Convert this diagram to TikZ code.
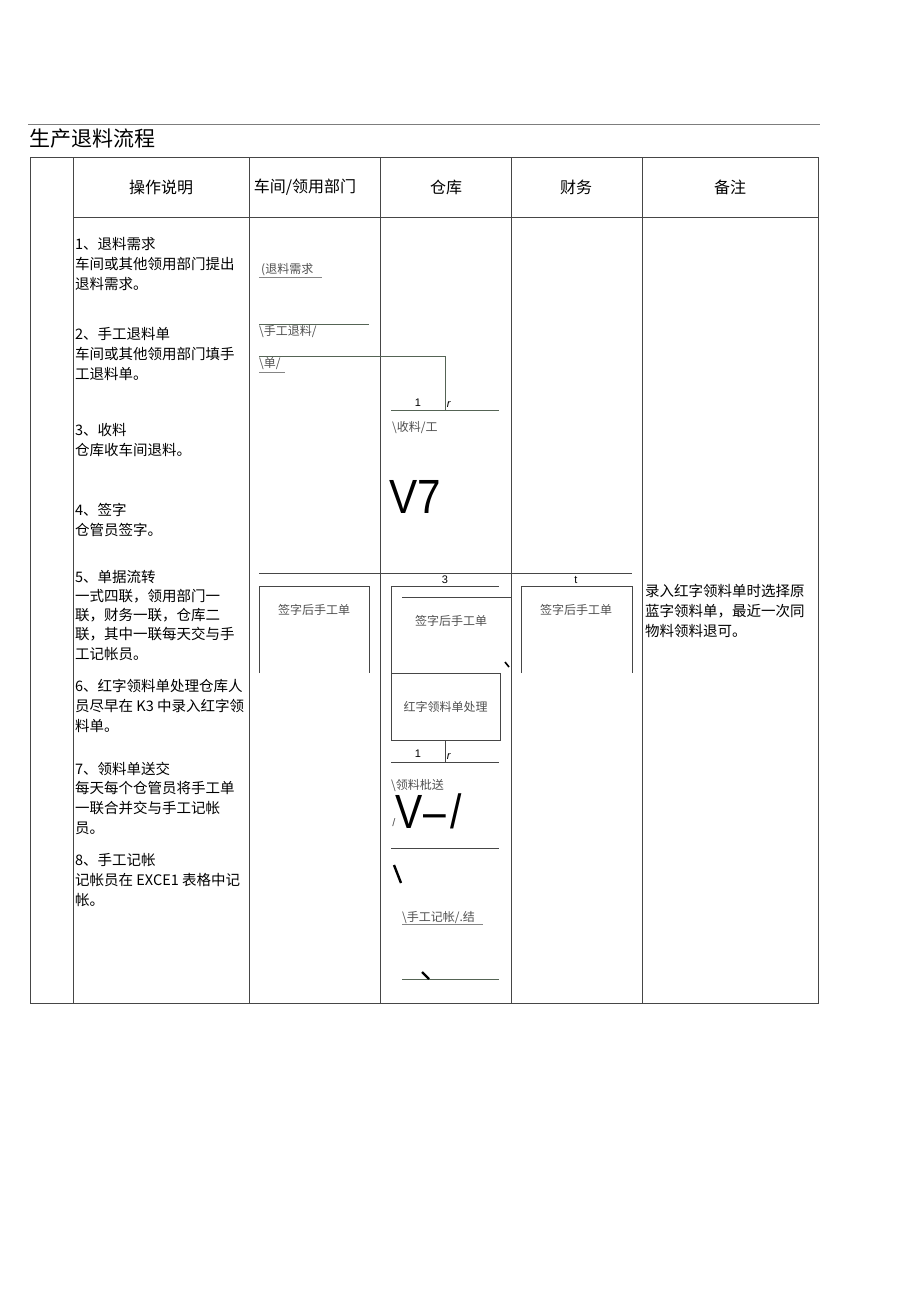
\documentclass[tikz,border=0pt]{standalone}
\usepackage{fontspec}
\setmainfont{Liberation Sans}
\newfontfamily\cjk{Noto Sans CJK SC}
\usetikzlibrary{positioning}
\definecolor{rulegray}{RGB}{70,70,70}
\definecolor{flowline}{RGB}{85,100,85}
\definecolor{labelgray}{RGB}{80,80,80}
\tikzset{
  cell/.style={font=\cjk\fontsize{14.5}{19.6}\selectfont, anchor=base west, inner sep=0pt, align=left},
  head/.style={font=\cjk\fontsize{16}{18}\selectfont, inner sep=0pt},
  lbl/.style={font=\cjk\fontsize{12}{14}\selectfont, text=labelgray, inner sep=0pt},
  big/.style={font=\fontsize{48}{50}\selectfont, inner sep=0pt, anchor=west},
  tick/.style={font=\fontsize{11}{12}\selectfont, inner sep=0pt},
  grid/.style={draw=rulegray, line width=.8pt},
  flow/.style={draw=flowline, line width=.8pt},
}
\begin{document}
\begin{tikzpicture}[x=1pt,y=-1pt]
\useasboundingbox (0,0) rectangle (920,1301);
% title and table
\draw[rulegray!70, line width=.6pt] (28,124) -- (820,124);
\node (title) [anchor=base west, inner sep=0pt, font=\cjk\fontsize{21}{24}\selectfont] at (29,146) {生产退料流程};
\draw[grid] (30,157) rectangle (818,1003);
\foreach \x in {73,249,380,511,642} \draw[grid] (\x,157) -- (\x,1003);
\draw[grid] (73,217) -- (818,217);
\node (h1) [head] at (161,187) {操作说明};
\node (h2) [head] at (305,187) {车间/领用部门};
\node (h3) [head] at (446,187) {仓库};
\node (h4) [head] at (576,187) {财务};
\node (h5) [head] at (730,187) {备注};
% steps (anchored on the last line)
\node (s1) [cell] at (75,289) {1、退料需求\\车间或其他领用部门提出\\退料需求。};
\node (s2) [cell] at (75,379) {2、手工退料单\\车间或其他领用部门填手\\工退料单。};
\node (s3) [cell] at (75,455) {3、收料\\仓库收车间退料。};
\node (s4) [cell] at (75,535) {4、签字\\仓管员签字。};
\node (s5) [cell, font=\cjk\fontsize{14.5}{19.25}\selectfont] at (75,659) {5、单据流转\\一式四联，领用部门一\\联，财务一联，仓库二\\联，其中一联每天交与手\\工记帐员。};
\node (s6) [cell] at (75,731) {6、红字领料单处理仓库人\\员尽早在 K3 中录入红字领\\料单。};
\node (s7) [cell] at (75,833) {7、领料单送交\\每天每个仓管员将手工单\\一联合并交与手工记帐\\员。};
\node (s8) [cell] at (75,905) {8、手工记帐\\记帐员在 EXCE1 表格中记\\帐。};
\node (note) [cell] at (645,636) {录入红字领料单时选择原\\蓝字领料单，最近一次同\\物料领料退可。};
% flow
\node (req) [lbl, anchor=west] at (261,270) {(退料需求};
\draw[labelgray!70, line width=.6pt] (259,277) -- (322,277);
\draw[flow] (259,324) -- (369,324);
\node (form) [lbl, anchor=west] at (259,332) {\textbackslash 手工退料/};
\node (form2) [lbl, anchor=west] at (259,364) {\textbackslash 单/};
\draw[labelgray!70, line width=.6pt] (259,372) -- (285,372);
\coordinate (a1) at (259,356);
\coordinate (a2) at (445,356);
\coordinate (a3) at (445,410);
\draw[flow] (a1) -- (a2) -- (a3);
\draw[flow] (391,410) -- (499,410);
\node (n1) [tick] at (418,403) {1};
\node (r1) [tick] at (449,405) {\textit{r}};
\node (recv) [lbl, anchor=west] at (392,428) {\textbackslash 收料/工};
\node (v7) [big] at (389,497) {\scalebox{.88}[1]{V7}};
\draw[rulegray, line width=.8pt] (259,573) -- (632,573);
\node (n3) [tick] at (445,580) {3};
\node (nt) [tick] at (576,580) {t};
\draw[grid] (259,673) -- (259,586) -- (369,586) -- (369,673);
\draw[grid] (391,740) -- (391,586) -- (499,586);
\draw[grid] (402,597) -- (511,597);
\draw[grid] (521,673) -- (521,586) -- (632,586) -- (632,673);
\node (sg1) [lbl] at (314,610) {签字后手工单};
\node (sg2) [lbl] at (451,621) {签字后手工单};
\node (sg3) [lbl] at (576,610) {签字后手工单};
\draw[line width=1.6pt] (505,662) -- (509,667);
\node (red) [lbl, draw=rulegray, line width=.8pt, minimum width=109pt, minimum height=67pt] at (445.5,706.5) {红字领料单处理};
\coordinate (b1) at (445,763);
\draw[grid] (red.south -| b1) -- (b1);
\draw[grid] (391,762) -- (499,762);
\node (n1b) [tick] at (418,754) {1};
\node (r2) [tick] at (449,757) {\textit{r}};
\node (send) [lbl, anchor=west] at (391,786) {\textbackslash 领料枇送};
\node (sl) [tick, text=labelgray] at (394,823) {/};
\node (vx) [big] at (395,811) {\scalebox{.85}[1]{V\kern1pt–\kern5pt/}};
\draw[grid] (391,848) -- (499,848);
\draw[line width=2.4pt] (394,865) -- (401,883);
\node (book) [lbl, anchor=west] at (402,918) {\textbackslash 手工记帐/.结};
\draw[labelgray!70, line width=.6pt] (402,924) -- (483,924);
\draw[flow] (402,979) -- (499,979);
\draw[line width=2.2pt] (422,972) -- (429,979);
\end{tikzpicture}
\end{document}
